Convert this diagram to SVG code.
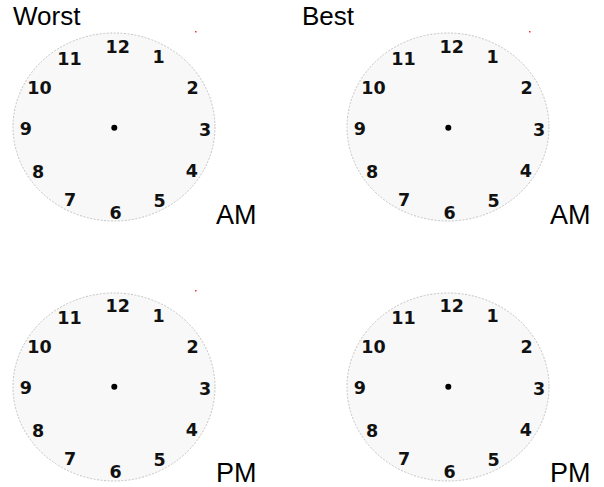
<svg xmlns="http://www.w3.org/2000/svg" width="604" height="487" viewBox="0 0 604 487">
<style>
.face{fill:#f8f8f8;stroke:#c4c4c4;stroke-width:1;stroke-dasharray:2 1.5}
.num{font-family:"DejaVu Sans","Liberation Sans",Arial,sans-serif;font-weight:bold;font-size:17.5px;fill:#111;text-anchor:middle}
.lbl{font-family:"Liberation Sans",Arial,sans-serif;font-size:26px;fill:#000}
.ampm{font-family:"Liberation Sans",Arial,sans-serif;font-size:27px;fill:#000}
.hub{fill:#000}
.spec{fill:#e33}
</style>
<rect width="604" height="487" fill="#fff"/>
<text class="lbl" x="13" y="25">Worst</text>
<text class="lbl" x="302" y="25">Best</text>
<g id="clock-worst-am" transform="translate(0,0)">
<ellipse class="face" cx="114" cy="127" rx="101" ry="94"/>
<rect class="spec" x="195" y="31" width="1.5" height="1.5"/>
<text class="num" x="117.7" y="53">12</text>
<text class="num" x="69.5" y="65.3">11</text>
<text class="num" x="158.7" y="63">1</text>
<text class="num" x="39.5" y="94.3">10</text>
<text class="num" x="192.7" y="94.3">2</text>
<text class="num" x="25.8" y="135.3">9</text>
<text class="num" x="205" y="136">3</text>
<text class="num" x="38.2" y="178">8</text>
<text class="num" x="191.8" y="177">4</text>
<text class="num" x="70.2" y="206">7</text>
<text class="num" x="159.5" y="207">5</text>
<text class="num" x="115.5" y="218.6">6</text>
<circle class="hub" cx="114.3" cy="127.7" r="3"/>
</g>
<g id="clock-best-am" transform="translate(334,0)">
<ellipse class="face" cx="114" cy="127" rx="101" ry="94"/>
<rect class="spec" x="195" y="31" width="1.5" height="1.5"/>
<text class="num" x="117.7" y="53">12</text>
<text class="num" x="69.5" y="65.3">11</text>
<text class="num" x="158.7" y="63">1</text>
<text class="num" x="39.5" y="94.3">10</text>
<text class="num" x="192.7" y="94.3">2</text>
<text class="num" x="25.8" y="135.3">9</text>
<text class="num" x="205" y="136">3</text>
<text class="num" x="38.2" y="178">8</text>
<text class="num" x="191.8" y="177">4</text>
<text class="num" x="70.2" y="206">7</text>
<text class="num" x="159.5" y="207">5</text>
<text class="num" x="115.5" y="218.6">6</text>
<circle class="hub" cx="114.3" cy="127.7" r="3"/>
</g>
<g id="clock-worst-pm" transform="translate(0,259)">
<ellipse class="face" cx="114" cy="128" rx="101" ry="94"/>
<rect class="spec" x="195" y="31" width="1.5" height="1.5"/>
<text class="num" x="117.7" y="53">12</text>
<text class="num" x="69.5" y="65.3">11</text>
<text class="num" x="158.7" y="63">1</text>
<text class="num" x="39.5" y="94.3">10</text>
<text class="num" x="192.7" y="94.3">2</text>
<text class="num" x="25.8" y="135.3">9</text>
<text class="num" x="205" y="136">3</text>
<text class="num" x="38.2" y="178">8</text>
<text class="num" x="191.8" y="177">4</text>
<text class="num" x="70.2" y="206">7</text>
<text class="num" x="159.5" y="207">5</text>
<text class="num" x="115.5" y="218.6">6</text>
<circle class="hub" cx="114.3" cy="127.7" r="3"/>
</g>
<g id="clock-best-pm" transform="translate(334,259)">
<ellipse class="face" cx="114" cy="128" rx="101" ry="94"/>
<text class="num" x="117.7" y="53">12</text>
<text class="num" x="69.5" y="65.3">11</text>
<text class="num" x="158.7" y="63">1</text>
<text class="num" x="39.5" y="94.3">10</text>
<text class="num" x="192.7" y="94.3">2</text>
<text class="num" x="25.8" y="135.3">9</text>
<text class="num" x="205" y="136">3</text>
<text class="num" x="38.2" y="178">8</text>
<text class="num" x="191.8" y="177">4</text>
<text class="num" x="70.2" y="206">7</text>
<text class="num" x="159.5" y="207">5</text>
<text class="num" x="115.5" y="218.6">6</text>
<circle class="hub" cx="114.3" cy="127.7" r="3"/>
</g>
<text class="ampm" x="216" y="224">AM</text>
<text class="ampm" x="550" y="224">AM</text>
<text class="ampm" x="216" y="482">PM</text>
<text class="ampm" x="550" y="482">PM</text>
</svg>
